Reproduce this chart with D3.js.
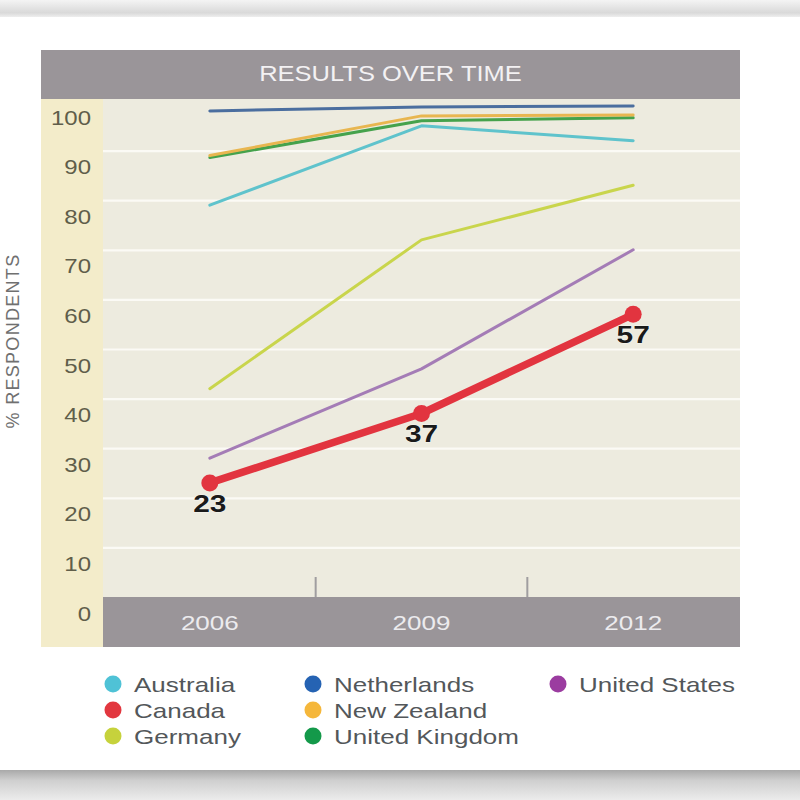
<!DOCTYPE html>
<html>
<head>
<meta charset="utf-8">
<script src="https://cdn.jsdelivr.net/npm/d3@7"></script>
<style>
  html, body { margin: 0; padding: 0; background: #ffffff; }
  svg { display: block; }
  text { font-family: "Liberation Sans", Arial, sans-serif; }
</style>
</head>
<body>
<div id="chart"></div>
<script>
// ---- data ----
const years = ["2006", "2009", "2012"];
const yTicks = [0, 10, 20, 30, 40, 50, 60, 70, 80, 90, 100];
const seriesNames = ["Netherlands", "Australia", "United Kingdom", "New Zealand", "Germany", "United States", "Canada"];
const netherlands = [98, 98.8, 99];
const australia = [79, 95, 92];
const unitedKingdom = [88.6, 96, 96.6];
const newZealand = [89, 97, 97.2];
const germany = [42, 72, 83];
const unitedStates = [28, 46, 70];
const canada = [23, 37, 57];
const canadaLabels = ["23", "37", "57"];
const legendNames = [["Australia", "Canada", "Germany"], ["Netherlands", "New Zealand", "United Kingdom"], ["United States"]];
const titleText = "RESULTS OVER TIME";
const yTitle = "% RESPONDENTS";

// ---- styles ----
const lineColors = {
  "Netherlands": "#4b6e9f", "Australia": "#5fc3cc", "United Kingdom": "#45a24c",
  "New Zealand": "#e8b650", "Germany": "#c9d54c", "United States": "#a47cb6", "Canada": "#e2343f"
};
const legendColors = {
  "Australia": "#4fc2d6", "Canada": "#e2373f", "Germany": "#c6d23c",
  "Netherlands": "#2563b3", "New Zealand": "#f5b73b", "United Kingdom": "#14994a", "United States": "#9b3ca0"
};
const seriesValues = {
  "Netherlands": netherlands, "Australia": australia, "United Kingdom": unitedKingdom,
  "New Zealand": newZealand, "Germany": germany, "United States": unitedStates, "Canada": canada
};

const W = 800, H = 800;
const svg = d3.select("#chart").append("svg").attr("width", W).attr("height", H);
const defs = svg.append("defs");

const gTop = defs.append("linearGradient").attr("id", "gTop").attr("x1", 0).attr("y1", 0).attr("x2", 0).attr("y2", 1);
gTop.append("stop").attr("offset", "0%").attr("stop-color", "#f4f4f4");
gTop.append("stop").attr("offset", "75%").attr("stop-color", "#d9d9d9");
gTop.append("stop").attr("offset", "100%").attr("stop-color", "#eeeeee");
const gBot = defs.append("linearGradient").attr("id", "gBot").attr("x1", 0).attr("y1", 0).attr("x2", 0).attr("y2", 1);
gBot.append("stop").attr("offset", "0%").attr("stop-color", "#a9a9a9");
gBot.append("stop").attr("offset", "35%").attr("stop-color", "#cfcfcf");
gBot.append("stop").attr("offset", "100%").attr("stop-color", "#ececec");

// frame
svg.append("rect").attr("x", 0).attr("y", 0).attr("width", W).attr("height", 17).attr("fill", "url(#gTop)");
svg.append("rect").attr("x", 0).attr("y", 770).attr("width", W).attr("height", 30).attr("fill", "url(#gBot)");

// layout
const bandL = 41, plotL = 103, plotR = 740, plotT = 99, plotB = 597, barB = 647;
const scaleTop = 101;

function sText(g, x, y, txt, sx, opts) {
  const t = g.append("text")
    .attr("transform", `translate(${x},${y}) scale(${sx},1)`)
    .text(txt);
  Object.entries(opts).forEach(([k, v]) => t.attr(k, v));
  return t;
}

// title bar
svg.append("rect").attr("x", bandL).attr("y", 50).attr("width", plotR - bandL).attr("height", plotT - 50).attr("fill", "#9a9599");
sText(svg, (bandL + plotR) / 2, 81, titleText, 1.16, {
  "text-anchor": "middle", "font-size": "22px", "fill": "#f3f1f3"
});

// y band
svg.append("rect").attr("x", bandL).attr("y", plotT).attr("width", plotL - bandL).attr("height", barB - plotT).attr("fill", "#f3ecca");
// plot bg
svg.append("rect").attr("x", plotL).attr("y", plotT).attr("width", plotR - plotL).attr("height", plotB - plotT).attr("fill", "#edebdf");
// x bar
svg.append("rect").attr("x", plotL).attr("y", plotB).attr("width", plotR - plotL).attr("height", barB - plotB).attr("fill", "#9a9599");

// scales
const x = d3.scaleBand().domain(years).range([plotL + 1, plotR - 1]);
const xc = d => x(d) + x.bandwidth() / 2;
const y = d3.scaleLinear().domain([0, 100]).range([plotB, scaleTop]);

// gridlines
const grid = svg.append("g").attr("transform", `translate(${plotL},0)`)
  .call(d3.axisLeft(y).tickValues(yTicks.filter(v => v > 0 && v < 100)).tickSize(-(plotR - plotL)).tickFormat(""));
grid.select(".domain").remove();
grid.selectAll(".tick line").attr("stroke", "#fbfaf5").attr("stroke-width", 2.2);

// separators
svg.append("g").selectAll("line").data(years.slice(1)).join("line")
  .attr("x1", d => x(d)).attr("x2", d => x(d))
  .attr("y1", plotB - 20).attr("y2", plotB)
  .attr("stroke", "#a09ea0").attr("stroke-width", 2);

// y axis labels
const yAx = svg.append("g").attr("transform", `translate(${plotL},0)`)
  .call(d3.axisLeft(y).tickValues(yTicks).tickSize(0));
yAx.select(".domain").remove();
yAx.selectAll(".tick text")
  .attr("x", null).attr("dy", null)
  .attr("transform", "translate(-12,23) scale(1.2,1)")
  .attr("text-anchor", "end")
  .attr("font-size", "20px")
  .attr("font-family", "'Liberation Sans', Arial, sans-serif")
  .attr("fill", "#605e4a");

// y title
svg.append("text")
  .attr("transform", `translate(19,341) rotate(-90)`)
  .attr("text-anchor", "middle")
  .attr("font-size", "18px")
  .attr("letter-spacing", "1.3px")
  .attr("fill", "#707070")
  .text(yTitle);

// x axis labels
const xAx = svg.append("g").attr("transform", `translate(0,${plotB})`)
  .call(d3.axisBottom(x).tickSize(0));
xAx.select(".domain").remove();
xAx.selectAll(".tick text")
  .attr("y", null).attr("dy", null)
  .attr("transform", "translate(0,33) scale(1.24,1)")
  .attr("font-size", "21px")
  .attr("font-family", "'Liberation Sans', Arial, sans-serif")
  .attr("fill", "#ecebee");

// lines
const line = d3.line().x((d, i) => xc(years[i])).y(d => y(d));
svg.append("g").selectAll("path").data(seriesNames).join("path")
  .attr("d", s => line(seriesValues[s]))
  .attr("fill", "none")
  .attr("stroke", s => lineColors[s])
  .attr("stroke-width", s => s === "Canada" ? 7.5 : 3)
  .attr("stroke-linejoin", "round")
  .attr("stroke-linecap", "round");

// canada markers
svg.append("g").selectAll("circle").data(canada).join("circle")
  .attr("cx", (d, i) => xc(years[i])).attr("cy", d => y(d)).attr("r", 8.5)
  .attr("fill", lineColors["Canada"]);

// canada labels
const lblG = svg.append("g");
canada.forEach((v, i) => {
  sText(lblG, xc(years[i]), y(v) + 29, canadaLabels[i], 1.3, {
    "text-anchor": "middle", "font-size": "23px", "font-weight": "bold", "fill": "#1a1a1a",
    "stroke": "#ffffff", "stroke-width": 0.6, "paint-order": "stroke"
  });
});

// legend
const legX = [113, 313, 558];
const legY = [684, 710, 736];
const leg = svg.append("g");
legendNames.forEach((col, ci) => {
  col.forEach((name, ri) => {
    leg.append("circle").attr("cx", legX[ci]).attr("cy", legY[ri]).attr("r", 8.5).attr("fill", legendColors[name]);
    sText(leg, legX[ci] + 21, legY[ri] + 7.5, name, 1.3, {
      "font-size": "20px", "fill": "#53575a"
    });
  });
});
</script>
</body>
</html>
